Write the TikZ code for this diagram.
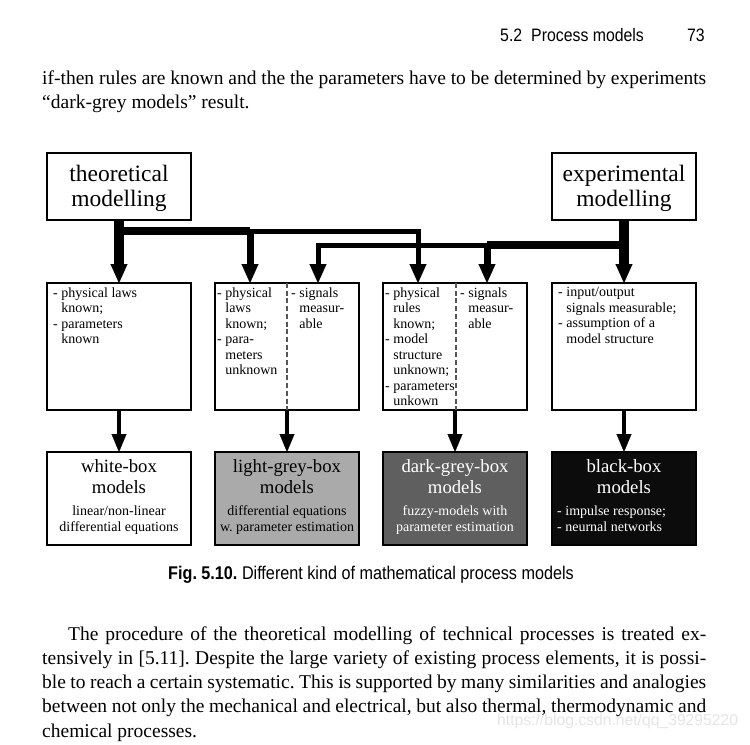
\documentclass[tikz,border=0pt]{standalone}
\usepackage{fontspec}
\setmainfont{Liberation Serif}
\newfontfamily\hdrsans[FakeStretch=0.88]{Liberation Sans}
\newfontfamily\wmsans{Liberation Sans}
\usetikzlibrary{arrows.meta}
\definecolor{lightbox}{RGB}{170,170,170}
\definecolor{darkbox}{RGB}{95,95,95}
\definecolor{blackbox}{RGB}{12,12,12}
\definecolor{dashgrey}{RGB}{85,85,85}
\frenchspacing
\begin{document}
\begin{tikzpicture}[x=1bp,y=-1bp,
  box/.style={draw=black, line width=1.2bp, minimum width=144bp, inner sep=0pt, outer sep=0pt, anchor=north west},
  topbox/.style={box, minimum height=67bp},
  midbox/.style={box, minimum height=127bp},
  botbox/.style={box, minimum height=93bp},
  toptext/.style={inner sep=0pt, anchor=north, align=center, font=\fontsize{23.5bp}{24.5bp}\selectfont},
  midtext/.style={inner sep=0pt, anchor=north west, align=left, font=\fontsize{14bp}{15.5bp}\selectfont},
  bttl/.style={inner sep=0pt, anchor=north, align=center, font=\fontsize{18.7bp}{21bp}\selectfont},
  bsub/.style={inner sep=0pt, anchor=north, align=center, font=\fontsize{14bp}{16bp}\selectfont},
  bigarrow/.style={-{Triangle[width=17bp,length=19bp,line width=0.1bp]}},
  smallarrow/.style={line width=3.5bp,-{Triangle[width=15bp,length=18bp,line width=0.1bp]}},
  divider/.style={draw=dashgrey, line width=1.2bp, dash pattern=on 5bp off 2.7bp},
  body/.style={inner sep=0pt, anchor=base west, font=\fontsize{19.5bp}{24bp}\selectfont},
  hdr/.style={inner sep=0pt, font=\hdrsans\fontsize{18bp}{20bp}\selectfont},
  captext/.style={inner sep=0pt, anchor=base, font=\hdrsans\fontsize{18.4bp}{20bp}\selectfont},
  wmtext/.style={inner sep=0pt, anchor=base west, text=gray!20, font=\wmsans\fontsize{15.7bp}{17bp}\selectfont}
]
\fill[white] (0,0) rectangle (750,745);
\useasboundingbox (0,0) rectangle (750,745);

% page header and text
\node[hdr, anchor=base west] (hd1) at (500,42) {5.2\hspace{9bp}Process models};
\node[hdr, anchor=base east] (hd2) at (705,42) {73};
\node[body] (p1) at (42,84) {\hbox to 664bp{if-then rules are known and the the parameters have to be determined by experiments}};
\node[body] (p2) at (42,108.5) {“dark-grey models” result.};

% boxes
\node[topbox] (T) at (47,153) {};
\node[topbox] (E) at (552,153) {};
\node[midbox] (M1) at (47,283) {};
\node[midbox] (M2) at (215,283) {};
\node[midbox] (M3) at (383,283) {};
\node[midbox] (M4) at (552,283) {};
\node[botbox] (B1) at (47,452) {};
\node[botbox, fill=lightbox] (B2) at (215,452) {};
\node[botbox, fill=darkbox] (B3) at (383,452) {};
\node[botbox, fill=blackbox] (B4) at (552,452) {};

\draw[divider] (M2.north) -- (M2.south);
\draw[divider] ([xshift=1bp]M3.north) -- ([xshift=1bp]M3.south);

% top texts
\node[toptext] (Tt) at (119,165.1) {theoretical\\modelling};
\node[toptext] (Et) at (624,165.1) {experimental\\modelling};

% middle texts
\node[midtext] (M1t) at (53,287.5) {- physical laws\\\hphantom{- }known;\\- parameters\\\hphantom{- }known};
\node[midtext] (M2l) at (217,287.5) {- physical\\\hphantom{- }laws\\\hphantom{- }known;\\- para-\\\hphantom{- }meters\\\hphantom{- }unknown};
\node[midtext] (M2r) at (291,287.5) {- signals\\\hphantom{- }measur-\\\hphantom{- }able};
\node[midtext] (M3l) at (385,287.5) {- physical\\\hphantom{- }rules\\\hphantom{- }known;\\- model\\\hphantom{- }structure\\\hphantom{- }unknown;\\- parameters\\\hphantom{- }unkown};
\node[midtext] (M3r) at (460,287.5) {- signals\\\hphantom{- }measur-\\\hphantom{- }able};
\node[midtext] (M4t) at (558,287.5) {- input/output\\\hphantom{- }signals measurable;\\- assumption of a\\\hphantom{- }model structure};

% bottom texts
\node[bttl] (B1a) at (119,459.3) {white-box\\models};
\node[bsub] (B1b) at (119,505.5) {linear/non-linear\\differential equations};
\node[bttl] (B2a) at (287,459.3) {light-grey-box\\models};
\node[bsub] (B2b) at (287,505.5) {differential equations\\w. parameter estimation};
\node[bttl, text=white] (B3a) at (455,459.3) {dark-grey-box\\models};
\node[bsub, text=white] (B3b) at (455,505.5) {fuzzy-models with\\parameter estimation};
\node[bttl, text=white] (B4a) at (624,459.3) {black-box\\models};
\node[bsub, text=white, anchor=north west, align=left] (B4b) at (557,505.5) {- impulse response;\\- neurnal networks};

% connectors from the top boxes
\coordinate (ju1) at (250,231);
\coordinate (ju2) at (418,231);
\coordinate (jl1) at (487,245);
\coordinate (jl2) at (318,245);

\draw[line width=8bp] (T.south |- ju1) -- (ju1);
\draw[line width=5bp, line join=miter, bigarrow] (ju1) -- (ju2) -- (ju2 |- M3.north);
\draw[line width=7bp, bigarrow] (ju1) -- (ju1 |- M2.north);
\draw[line width=10bp, bigarrow] (T.south) -- (M1.north);

\draw[line width=8bp] (E.south |- jl1) -- (jl1);
\draw[line width=5bp, line join=miter, bigarrow] (jl1) -- (jl2) -- (jl2 |- M2.north);
\draw[line width=7bp, bigarrow] (jl1) -- (jl1 |- M3.north);
\draw[line width=10bp, bigarrow] (E.south) -- (M4.north);

% connectors to the bottom boxes
\draw[smallarrow] (M1.south) -- (B1.north);
\draw[smallarrow] (M2.south) -- (B2.north);
\draw[smallarrow] (M3.south) -- (B3.north);
\draw[smallarrow] (M4.south) -- (B4.north);

% caption and following text
\node[captext] (capt) at (371,579) {\textbf{Fig. 5.10.} Different kind of mathematical process models};
\node[wmtext] (wmk) at (497,725.5) {https://blog.csdn.net/qq\_39295220};
\node[body] (q1) at (42,640) {\hbox to 664bp{\hspace{26bp}The procedure of the theoretical modelling of technical processes is treated ex-}};
\node[body] (q2) at (42,664.25) {\hbox to 664bp{tensively in [5.11]. Despite the large variety of existing process elements, it is possi-}};
\node[body] (q3) at (42,688.5) {\hbox to 664bp{ble to reach a certain systematic. This is supported by many similarities and analogies}};
\node[body] (q4) at (42,712.75) {\hbox to 664bp{between not only the mechanical and electrical, but also thermal, thermodynamic and}};
\node[body] (q5) at (42,737) {chemical processes.};
\end{tikzpicture}
\end{document}
